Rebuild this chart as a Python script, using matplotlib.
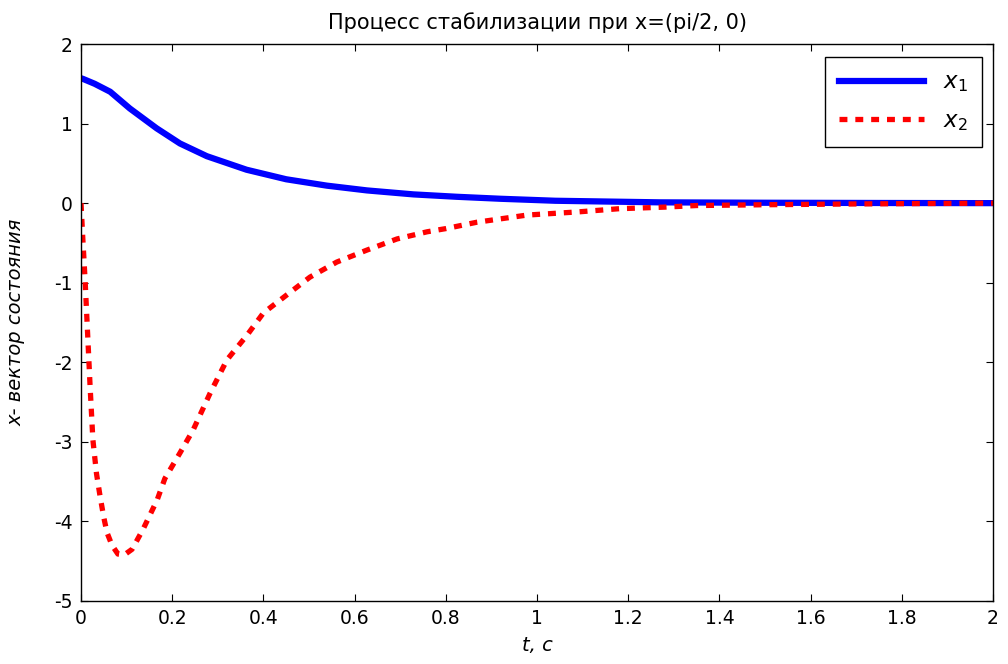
import matplotlib
matplotlib.use("Agg")
import matplotlib.pyplot as plt

# Data
t1 = [0.0, 0.005, 0.03, 0.064, 0.107, 0.166, 0.217, 0.276, 0.363, 0.45, 0.539,
      0.627, 0.729, 0.824, 0.92, 1.04, 1.27, 1.5, 1.75, 2.0]
x1 = [1.57, 1.56, 1.50, 1.40, 1.19, 0.94, 0.75, 0.59, 0.42, 0.30, 0.22,
      0.16, 0.11, 0.08, 0.055, 0.03, 0.01, 0.005, 0.002, 0.0]

t2 = [0.0, 0.004, 0.009, 0.015, 0.02, 0.026, 0.034, 0.042, 0.05, 0.057, 0.068,
      0.081, 0.095, 0.112, 0.136, 0.167, 0.184, 0.217, 0.246, 0.283, 0.32, 0.364,
      0.40, 0.452, 0.502, 0.561, 0.627, 0.693, 0.759, 0.80, 0.868, 0.978, 1.09,
      1.18, 1.28, 1.35, 1.5, 1.7, 2.0]
x2 = [0.0, -0.45, -0.97, -1.7, -2.31, -2.97, -3.4, -3.69, -3.95, -4.14, -4.3,
      -4.41, -4.42, -4.35, -4.10, -3.73, -3.46, -3.14, -2.85, -2.39, -1.97, -1.66,
      -1.38, -1.15, -0.93, -0.74, -0.59, -0.45, -0.36, -0.32, -0.24, -0.15, -0.11,
      -0.07, -0.05, -0.03, -0.02, -0.01, 0.0]

xticks = [0, 0.2, 0.4, 0.6, 0.8, 1, 1.2, 1.4, 1.6, 1.8, 2]
xticklabels = ["0", "0.2", "0.4", "0.6", "0.8", "1", "1.2", "1.4", "1.6", "1.8", "2"]
yticks = [-5, -4, -3, -2, -1, 0, 1, 2]

plt.rcParams['font.family'] = ['DejaVu Sans']
plt.rcParams['axes.unicode_minus'] = False
plt.rcParams['mathtext.fontset'] = 'dejavusans'

fig = plt.figure(figsize=(10.08, 6.64), dpi=100)
ax = fig.add_axes([81 / 1008, 63 / 664, 912 / 1008, 557 / 664])

ax.plot(t1, x1, color='#0000ff', lw=4.5, label=r'$x_\mathit{1}$')
ax.plot(t2, x2, color='#ff0000', lw=3.8, dashes=(1.5, 1.5), label=r'$x_\mathit{2}$')

ax.set_xlim(0, 2)
ax.set_ylim(-5, 2)
ax.set_xticks(xticks)
ax.set_xticklabels(xticklabels)
ax.set_yticks(yticks)
ax.tick_params(direction='in', length=5, width=0.8, labelsize=13.5, top=True, right=True)
ax.tick_params(axis='x', pad=6)
ax.tick_params(axis='y', pad=6)
for s in ax.spines.values():
    s.set_linewidth(1.0)

ax.set_title('Процесс стабилизации при x=(pi/2, 0)', fontsize=15, pad=11)
ax.set_xlabel('t, c', fontsize=14, style='italic')
ax.set_ylabel('x- вектор состояния', fontsize=14, style='italic')
ax.xaxis.set_label_coords(0.5, -0.062)
ax.yaxis.set_label_coords(-0.061, 0.5)

leg = ax.legend(loc='upper right', bbox_to_anchor=(0.988, 0.977), borderaxespad=0,
                fontsize=16.5, fancybox=False, edgecolor='black', handlelength=3.7,
                handletextpad=0.85, borderpad=0.6, labelspacing=0.65, framealpha=1)
leg.get_frame().set_linewidth(1.0)

fig.savefig('out.png', dpi=100)
